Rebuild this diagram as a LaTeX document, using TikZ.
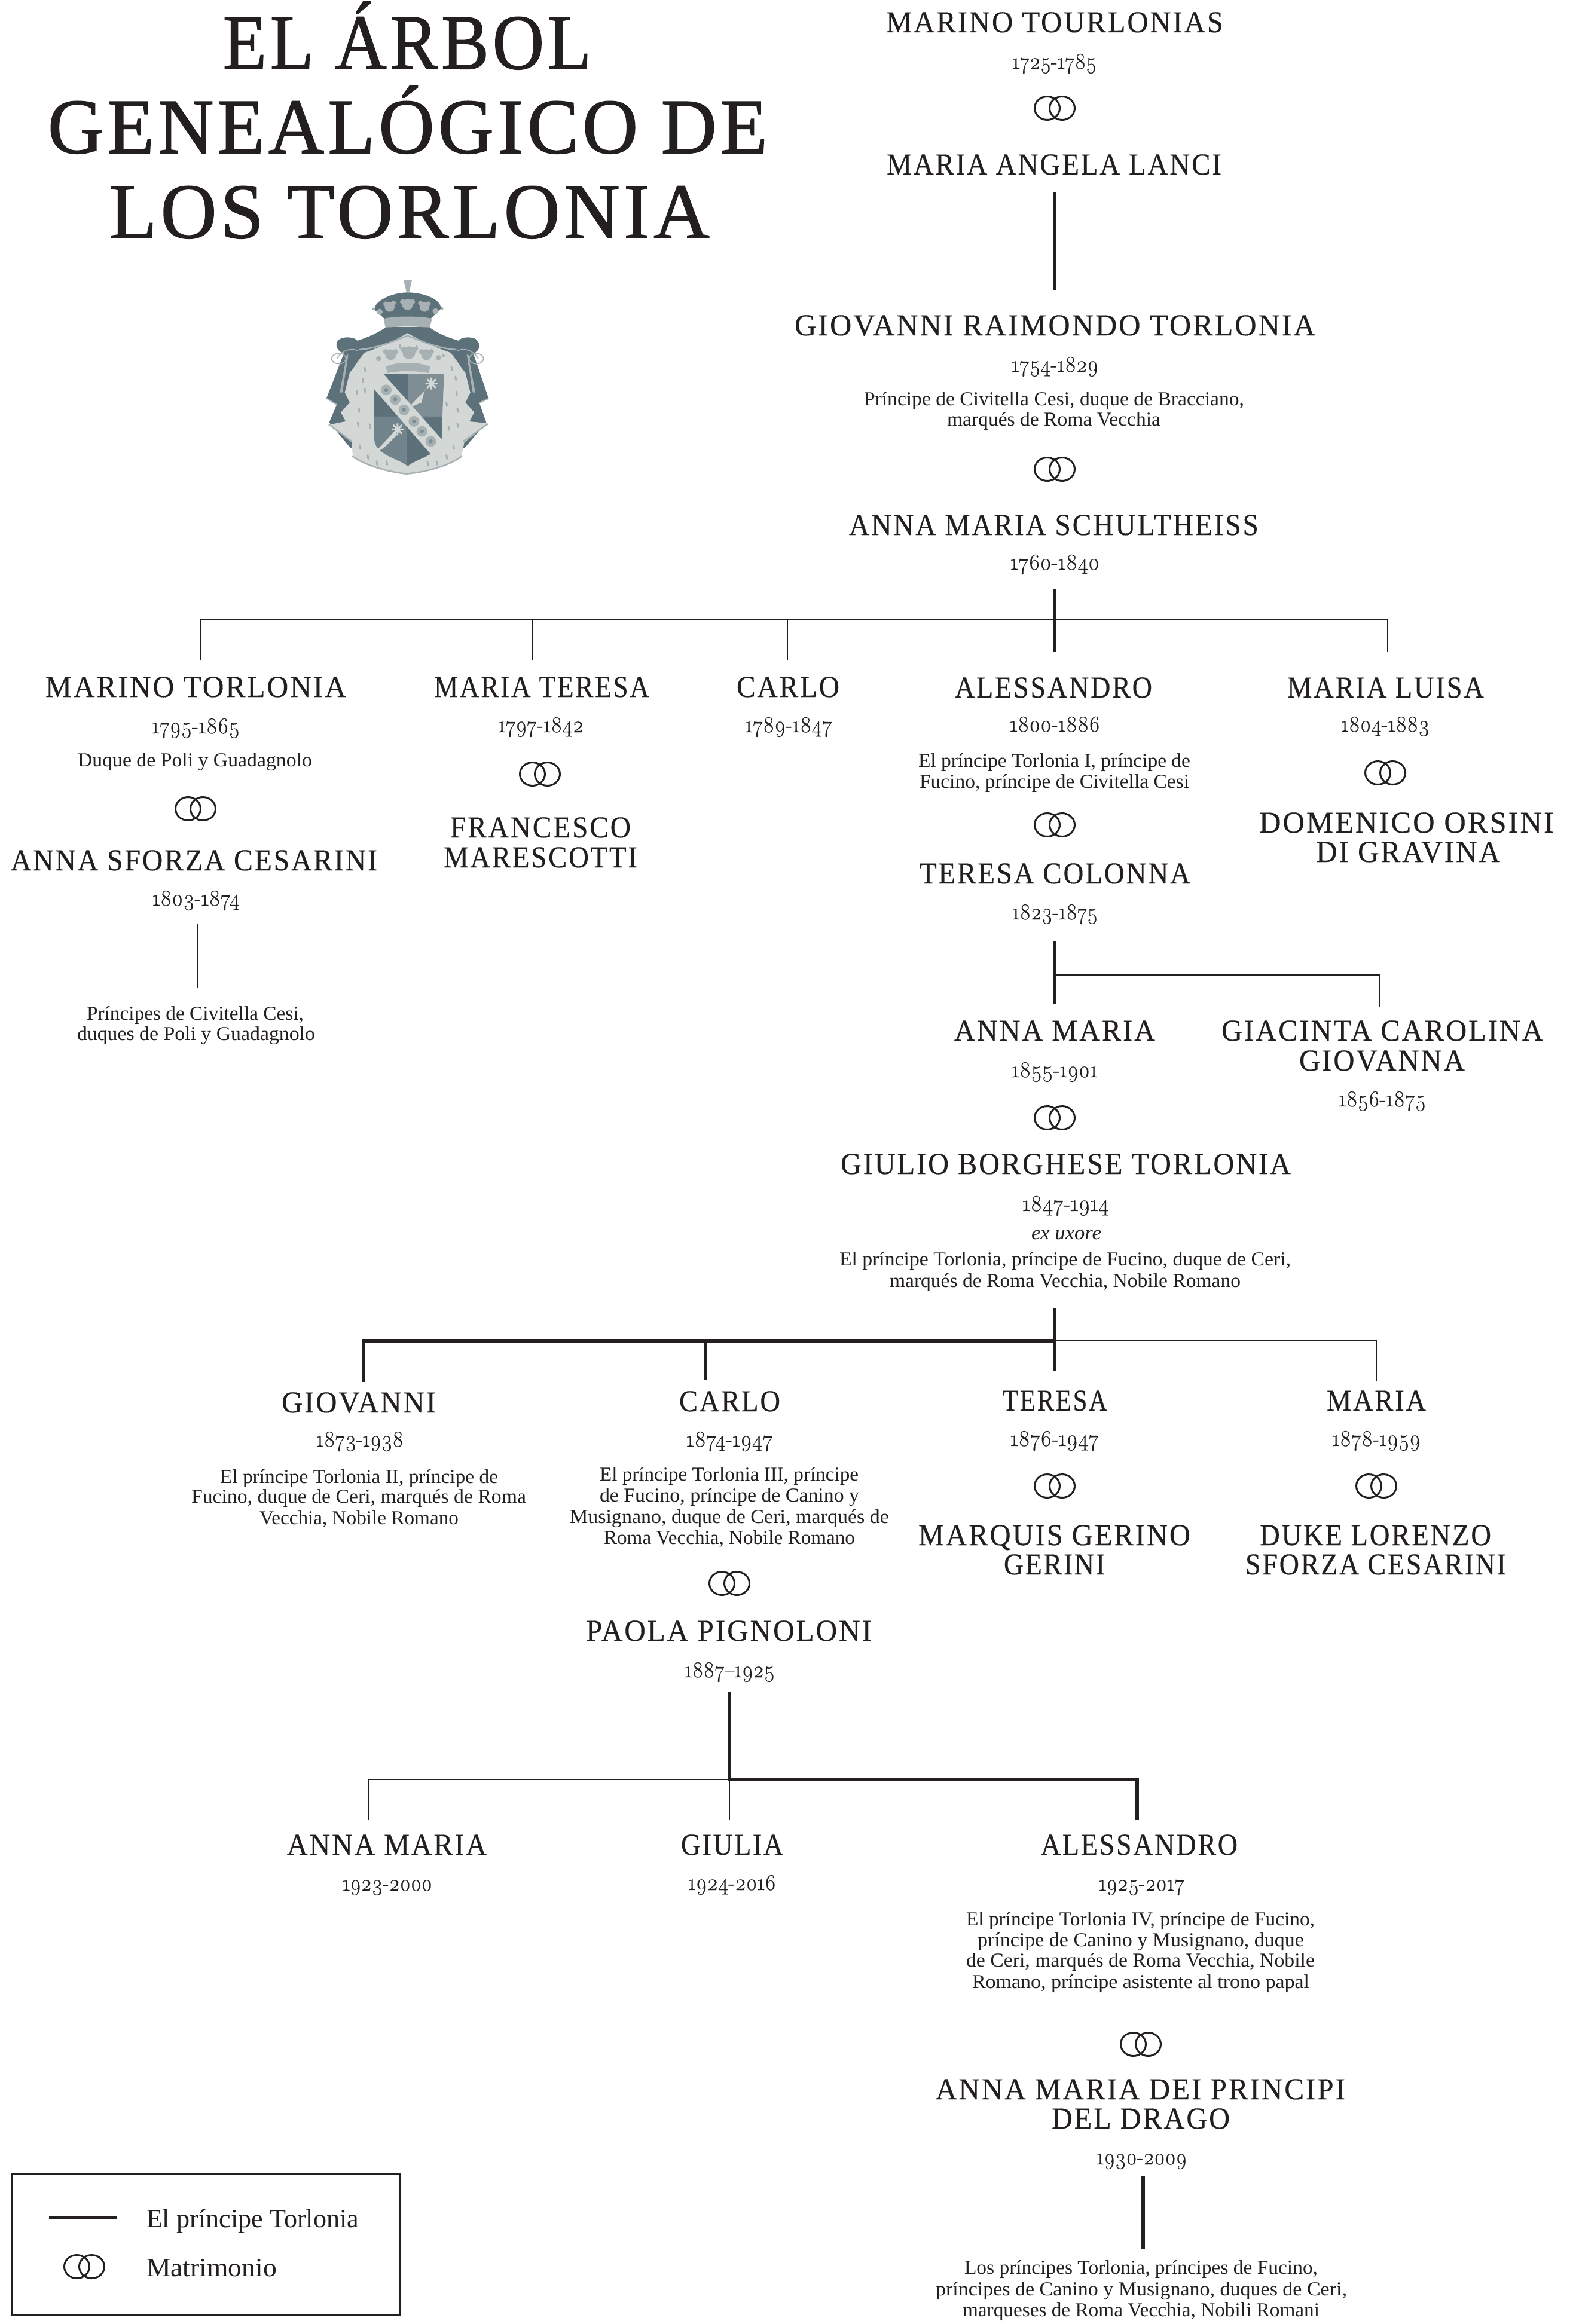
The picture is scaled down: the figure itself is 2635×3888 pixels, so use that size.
\documentclass[tikz,border=0pt]{standalone}
\usepackage{fontspec}
\usepackage{graphicx}
\setmainfont{Liberation Serif}
\newfontfamily\datefam{Latin Modern Roman}[Numbers=OldStyle,FakeBold=0.5]
\newfontfamily\namefam{Liberation Serif}[LetterSpace=6,FakeBold=0.3]
\newfontfamily\titlefam{Liberation Serif}[LetterSpace=5,FakeBold=1.2]
\definecolor{ink}{HTML}{231F20}
\definecolor{armdark}{HTML}{5C717A}
\definecolor{armmid}{HTML}{A7B1B4}
\definecolor{armlight}{HTML}{D3D7D6}
\definecolor{armshield}{HTML}{6B7F88}
\newlength\fitlen
\newcommand\fitw[2]{\settowidth\fitlen{#2}\pgfmathsetmacro\fitr{#1/\fitlen}\scalebox{\fitr}[1]{#2}}
\newcommand\titlef{\titlefam\fontsize{131}{131}\selectfont}
\newcommand\namef{\namefam\fontsize{51}{51}\selectfont}
\newcommand\datef{\datefam\fontsize{38}{38}\selectfont}
\newcommand\bodyf{\fontsize{33}{33}\selectfont}
\newcommand\legf{\fontsize{44}{44}\selectfont}
\newcommand\tl[6]{\pgfmathsetmacro\ncx{(#3+#4)/2}\pgfmathsetmacro\nwd{#4-#3}\node[txt] (#2) at (\ncx,#5) {\fitw{\nwd}{#1#6}};}
\newcommand\ti[5]{\tl{\titlef}{#1}{#2}{#3}{#4}{#5}}
\newcommand\nm[5]{\tl{\namef}{#1}{#2}{#3}{#4}{#5}}
\newcommand\dt[5]{\tl{\datef}{#1}{#2}{#3}{#4}{#5}}
\newcommand\bd[5]{\tl{\bodyf}{#1}{#2}{#3}{#4}{#5}}
\newcommand\rings[2]{\draw[ringline] ({#1-12.5},#2) ellipse [x radius=21,y radius=19.5];\draw[ringline] ({#1+12.5},#2) ellipse [x radius=21,y radius=19.5];}
\begin{document}
\begin{tikzpicture}[x=1pt,y=-1pt,
  txt/.style={inner sep=0pt,outer sep=0pt,anchor=base,text=ink},
  ringline/.style={draw=ink,line width=3pt},
  thick line/.style={draw=ink,line width=6pt},
  thin line/.style={draw=ink,line width=2.5pt},
  ermine/.style={draw=armmid,line width=3pt,line cap=round}]
\useasboundingbox (0,0) rectangle (2635,3888);
\fill[white] (0,0) rectangle (2635,3888);

% title
\ti{t1}{373}{989}{115}{EL ÁRBOL}
\ti{t2}{80}{1284}{256}{GENEALÓGICO DE}
\ti{t3}{183}{1187}{398}{LOS TORLONIA}

% coat of arms
\begin{scope}[shift={(530,450)},x=0.3333pt,y=-0.3333pt]
 \fill[armmid] (435,55) -- (477,55) -- (463,117) -- (450,117) -- cycle;
 \fill[armdark] (290,205) .. controls (285,160) and (380,118) .. (455,118) .. controls (530,118) and (625,150) .. (622,200) -- (570,250) -- (340,250) -- cycle;
 \fill[armmid] (335,250) .. controls (380,235) and (530,235) .. (578,250) -- (565,298) .. controls (500,285) and (410,285) .. (345,298) -- cycle;
 \fill[armmid] (365,190) circle (25) (345,175) circle (12) (385,172) circle (12);
 \fill[armmid] (455,178) circle (28) (430,165) circle (13) (480,165) circle (13);
 \fill[armmid] (540,190) circle (25) (520,172) circle (12) (560,175) circle (12);
 \fill[armmid] (315,215) circle (15) (595,212) circle (15) (285,200) circle (7) (628,198) circle (7);
 % mantle
 \fill[armdark] (345,293) .. controls (400,290) and (510,290) .. (565,293) .. controls (610,325) and (660,345) .. (712,360) .. controls (720,340) and (790,335) .. (805,360) .. controls (825,385) and (815,410) .. (785,425) -- (862,650) -- (815,672) -- (850,770) -- (740,900) -- (170,900) -- (62,770) -- (100,680) -- (48,650) -- (135,425) .. controls (100,410) and (90,385) .. (105,360) .. controls (125,335) and (190,340) .. (202,360) .. controls (250,345) and (300,325) .. (345,293) -- cycle;
 % ermine lining
 \fill[armlight] (455,322) .. controls (380,365) and (310,395) .. (240,420) .. controls (205,460) and (185,500) .. (165,520) -- (140,620) -- (165,670) -- (120,720) -- (145,765) -- (60,782) -- (175,870) -- (180,940) .. controls (240,985) and (360,1020) .. (450,1030) .. controls (550,1020) and (670,985) .. (725,940) -- (740,870) -- (860,775) -- (765,765) -- (790,720) -- (745,670) -- (770,620) -- (745,520) .. controls (725,500) and (705,460) .. (670,420) .. controls (600,395) and (530,365) .. (455,322) -- cycle;
 \draw[armmid,line width=2.5pt] (210,405) .. controls (300,400) and (390,360) .. (455,335) .. controls (520,360) and (610,400) .. (700,405);
 \draw[armmid,line width=2.5pt] (60,780) -- (175,865) (178,940) .. controls (240,985) and (360,1020) .. (450,1028) .. controls (550,1020) and (670,985) .. (727,940) (735,865) -- (858,778);
 \draw[armmid,line width=2pt] (50,650) -- (98,680) (815,672) -- (862,650);
 % cords
 \draw[armmid,line width=1.6pt] (110,450) ellipse [x radius=36,y radius=26] (800,450) ellipse [x radius=36,y radius=26] (100,450) .. controls (130,405) and (170,395) .. (205,410) (810,450) .. controls (780,405) and (740,395) .. (705,410);
 \fill[armmid] (150,430) -- (158,430) -- (128,620) -- (115,620) -- cycle (760,430) -- (752,430) -- (782,620) -- (795,620) -- cycle;
 % upper crown
 \fill[armmid] (345,490) .. controls (400,465) and (510,465) .. (570,490) -- (560,522) .. controls (500,510) and (410,510) .. (355,522) -- cycle;
 \fill[armmid] (370,430) circle (27) (345,415) circle (13) (395,415) circle (13);
 \fill[armmid] (462,420) circle (32) (435,405) circle (14) (490,405) circle (14);
 \fill[armmid] (550,430) circle (27) (525,415) circle (13) (575,415) circle (13);
 \fill[armmid] (310,450) circle (13) (610,445) circle (13) (635,435) circle (7);
 % shield
 \fill[armshield] (340,528) -- (637,528) -- (626,850) .. controls (620,935) and (500,950) .. (456,990) .. controls (410,950) and (290,935) .. (288,850) -- (288,600) -- cycle;
 \fill[armdark] (340,528) -- (456,528) -- (456,740) -- (288,740) -- (288,600) -- cycle;
 \fill[armdark] (456,745) -- (456,985) .. controls (500,950) and (620,935) .. (626,850) -- (626,745) -- cycle;
 \fill[armmid!45!armdark] (456,528) -- (637,528) -- (628,740) -- (456,740) -- cycle;
 \fill[armmid!30!armdark] (288,745) -- (456,745) -- (456,985) .. controls (410,950) and (290,935) .. (288,850) -- cycle;
 \draw[armdark,line width=1pt] (456,528) -- (456,985) (288,742) -- (628,742);
 % bend
 \fill[armlight] (285,600) -- (335,528) -- (640,870) -- (585,945) -- cycle;
 \foreach \xx/\yy in {348/607,393/655,437/707,487/765,527/815,572/865}{
   \fill[armmid] (\xx,\yy) circle (27);
   \fill[armshield!70!armmid] (\xx,\yy) circle (10);
 }
 % stars
 \fill[armlight] (475,680) -- (565,585) -- (540,610) -- (525,670) -- (480,690) -- cycle;
 \draw[armlight,line width=3pt] (575,545) -- (575,605) (545,575) -- (608,575) (553,553) -- (597,597) (597,553) -- (553,597);
 \fill[armlight] (305,905) -- (395,810) -- (400,835) -- (345,890) -- (310,915) -- cycle;
 \draw[armlight,line width=3pt] (405,775) -- (405,835) (375,805) -- (435,805) (383,783) -- (427,827) (427,783) -- (383,827);
 % ermine spots
 \foreach \xx/\yy in {240/495,230/550,200/610,240/600,210/700,205/770,265/780,215/885,255/935,300/965,350/965,415/380,500/385,675/490,695/540,700/615,650/670,705/700,705/775,660/790,685/885,650/935,600/965,555/968}{
   \draw[ermine] (\xx,\yy) -- +(3,18);
 }
\end{scope}

% top generations
\nm{n1}{1482}{2046}{54}{MARINO TOURLONIAS}
\dt{d1}{1693}{1834}{115}{1725-1785}
\rings{1764}{181}
\nm{n2}{1483}{2043}{292}{MARIA ANGELA LANCI}
\coordinate (a1) at (1764,322);
\coordinate (a2) at (1764,485);
\draw[thick line] (a1) -- (a2);
\nm{n3}{1329}{2200}{561}{GIOVANNI RAIMONDO TORLONIA}
\dt{d3}{1692}{1837}{622}{1754-1829}
\bd{b3a}{1445}{2081}{678}{Príncipe de Civitella Cesi, duque de Bracciano,}
\bd{b3b}{1584}{1941}{712}{marqués de Roma Vecchia}
\rings{1764}{785}
\nm{n4}{1420}{2105}{895}{ANNA MARIA SCHULTHEISS}
\dt{d4}{1690}{1839}{953}{1760-1840}

% first split
\coordinate (s1t) at (1764,985);
\coordinate (s1j) at (1764,1036);
\coordinate (s1b) at (1764,1090);
\coordinate (s1l) at (336,1036);
\coordinate (s1ld) at (336,1104);
\coordinate (s1m) at (891,1036);
\coordinate (s1md) at (891,1104);
\coordinate (s1c) at (1317,1036);
\coordinate (s1cd) at (1317,1104);
\coordinate (s1r) at (2321,1036);
\coordinate (s1rd) at (2321,1090);
\draw[thin line] (s1ld) -- (s1l) -- (s1r) -- (s1rd);
\draw[thin line] (s1m) -- (s1md);
\draw[thin line] (s1c) -- (s1cd);
\draw[thick line] (s1t) -- (s1b);

\nm{n5}{76}{579}{1166}{MARINO TORLONIA}
\dt{d5}{254}{401}{1227}{1795-1865}
\bd{b5}{130}{522}{1282}{Duque de Poli y Guadagnolo}
\rings{327}{1353}
\nm{n6}{18}{631}{1456}{ANNA SFORZA CESARINI}
\dt{d6}{255}{401}{1515}{1803-1874}
\coordinate (m1) at (331,1545);
\coordinate (m2) at (331,1653);
\draw[thin line] (m1) -- (m2);
\bd{b6a}{145}{508}{1706}{Príncipes de Civitella Cesi,}
\bd{b6b}{129}{527}{1740}{duques de Poli y Guadagnolo}

\nm{n7}{726}{1086}{1166}{MARIA TERESA}
\dt{d7}{833}{976}{1225}{1797-1842}
\rings{903}{1295}
\nm{n8a}{753}{1055}{1401}{FRANCESCO}
\nm{n8b}{742}{1066}{1451}{MARESCOTTI}

\nm{n9}{1232}{1404}{1166}{CARLO}
\dt{d9}{1246}{1392}{1225}{1789-1847}

\nm{n10}{1597}{1927}{1167}{ALESSANDRO}
\dt{d10}{1689}{1840}{1224}{1800-1886}
\bd{b10a}{1536}{1991}{1283}{El príncipe Torlonia I, príncipe de}
\bd{b10b}{1538}{1989}{1318}{Fucino, príncipe de Civitella Cesi}
\rings{1764}{1380}
\nm{n11}{1538}{1991}{1478}{TERESA COLONNA}
\dt{d11}{1693}{1836}{1538}{1823-1875}

\nm{n12}{2153}{2482}{1167}{MARIA LUISA}
\dt{d12}{2243}{2391}{1224}{1804-1883}
\rings{2317}{1293}
\nm{n13a}{2106}{2599}{1393}{DOMENICO ORSINI}
\nm{n13b}{2201}{2509}{1442}{DI GRAVINA}

% second split
\coordinate (s2t) at (1764,1574);
\coordinate (s2j) at (1764,1631);
\coordinate (s2b) at (1764,1679);
\coordinate (s2r) at (2307,1631);
\coordinate (s2rd) at (2307,1685);
\draw[thin line] (s2j) -- (s2r) -- (s2rd);
\draw[thick line] (s2t) -- (s2b);

\nm{n14}{1596}{1932}{1741}{ANNA MARIA}
\dt{d14}{1692}{1836}{1802}{1855-1901}
\rings{1764}{1870}
\nm{n15a}{2043}{2581}{1741}{GIACINTA CAROLINA}
\nm{n15b}{2173}{2450}{1791}{GIOVANNA}
\dt{d15}{2239}{2385}{1851}{1856-1875}
\nm{n16}{1406}{2159}{1964}{GIULIO BORGHESE TORLONIA}
\dt{d16}{1710}{1855}{2026}{1847-1914}
\tl{\bodyf\itshape}{e16}{1725}{1842}{2073}{ex uxore}
\bd{b16a}{1404}{2159}{2117}{El príncipe Torlonia, príncipe de Fucino, duque de Ceri,}
\bd{b16b}{1488}{2075}{2153}{marqués de Roma Vecchia, Nobile Romano}

% third split
\coordinate (s3t) at (1764,2189);
\coordinate (s3j) at (1764,2243);
\coordinate (s3b) at (1764,2293);
\coordinate (s3l) at (608,2243);
\coordinate (s3ld) at (608,2312);
\coordinate (s3c) at (1180,2243);
\coordinate (s3cd) at (1180,2308);
\coordinate (s3r) at (2302,2243);
\coordinate (s3rd) at (2302,2310);
\draw[thin line] (s3j) -- (s3r) -- (s3rd);
\draw[draw=ink,line width=4pt] (s3t) -- (s3b);
\draw[thick line] (s3ld) -- (s3l) -- (s3j);
\draw[draw=ink,line width=4.5pt] (s3c) -- (s3cd);

\nm{n17}{471}{729}{2363}{GIOVANNI}
\dt{d17}{529}{675}{2420}{1873-1938}
\bd{b17a}{368}{833}{2481}{El príncipe Torlonia II, príncipe de}
\bd{b17b}{320}{880}{2514}{Fucino, duque de Ceri, marqués de Roma}
\bd{b17c}{434}{767}{2550}{Vecchia, Nobile Romano}

\nm{n18}{1136}{1305}{2361}{CARLO}
\dt{d18}{1148}{1293}{2420}{1874-1947}
\bd{b18a}{1003}{1436}{2477}{El príncipe Torlonia III, príncipe}
\bd{b18b}{1003}{1437}{2512}{de Fucino, príncipe de Canino y}
\bd{b18c}{953}{1487}{2548}{Musignano, duque de Ceri, marqués de}
\bd{b18d}{1010}{1430}{2583}{Roma Vecchia, Nobile Romano}
\rings{1220}{2649}
\nm{n19}{980}{1458}{2745}{PAOLA PIGNOLONI}
\dt{d19}{1145}{1296}{2806}{1887–1925}

\nm{n20}{1677}{1852}{2360}{TERESA}
\dt{d20}{1690}{1838}{2419}{1876-1947}
\rings{1764}{2486}
\nm{n21a}{1536}{1991}{2585}{MARQUIS GERINO}
\nm{n21b}{1679}{1848}{2634}{GERINI}

\nm{n22}{2219}{2385}{2360}{MARIA}
\dt{d22}{2228}{2376}{2419}{1878-1959}
\rings{2302}{2486}
\nm{n23a}{2107}{2494}{2585}{DUKE LORENZO}
\nm{n23b}{2083}{2519}{2634}{SFORZA CESARINI}

% fourth split
\coordinate (s4t) at (1220,2831);
\coordinate (s4j) at (1220,2977);
\coordinate (s4b) at (1220,3044);
\coordinate (s4l) at (616,2977);
\coordinate (s4ld) at (616,3045);
\coordinate (s4r) at (1902,2977);
\coordinate (s4rd) at (1902,3045);
\draw[thin line] (s4ld) -- (s4l) -- (s4j) -- (s4b);
\draw[thick line] (s4t) -- (s4j) -- (s4r) -- (s4rd);

\nm{n24}{480}{814}{3103}{ANNA MARIA}
\dt{d24}{573}{723}{3163}{1923-2000}
\nm{n25}{1139}{1310}{3103}{GIULIA}
\dt{d25}{1151}{1298}{3162}{1924-2016}
\nm{n26}{1741}{2070}{3103}{ALESSANDRO}
\dt{d26}{1838}{1981}{3163}{1925-2017}
\bd{b26a}{1616}{2199}{3221}{El príncipe Torlonia IV, príncipe de Fucino,}
\bd{b26b}{1635}{2181}{3256}{príncipe de Canino y Musignano, duque}
\bd{b26c}{1616}{2199}{3290}{de Ceri, marqués de Roma Vecchia, Nobile}
\bd{b26d}{1626}{2190}{3326}{Romano, príncipe asistente al trono papal}
\rings{1908}{3420}
\nm{n27a}{1565}{2250}{3512}{ANNA MARIA DEI PRINCIPI}
\nm{n27b}{1759}{2057}{3561}{DEL DRAGO}
\dt{d27}{1834}{1985}{3621}{1930-2009}
\coordinate (l1) at (1912,3641);
\coordinate (l2) at (1912,3762);
\draw[thick line] (l1) -- (l2);
\bd{b28a}{1613}{2204}{3804}{Los príncipes Torlonia, príncipes de Fucino,}
\bd{b28b}{1565}{2253}{3840}{príncipes de Canino y Musignano, duques de Ceri,}
\bd{b28c}{1610}{2207}{3875}{marqueses de Roma Vecchia, Nobili Romani}

% legend
\draw[draw=ink,line width=3pt] (20,3637) rectangle (669,3872);
\coordinate (lg1) at (82,3710);
\coordinate (lg2) at (195,3710);
\draw[thick line] (lg1) -- (lg2);
\tl{\legf}{lg3}{245}{600}{3726}{El príncipe Torlonia}
\rings{141}{3792}
\tl{\legf}{lg4}{245}{463}{3808}{Matrimonio}
\end{tikzpicture}
\end{document}
